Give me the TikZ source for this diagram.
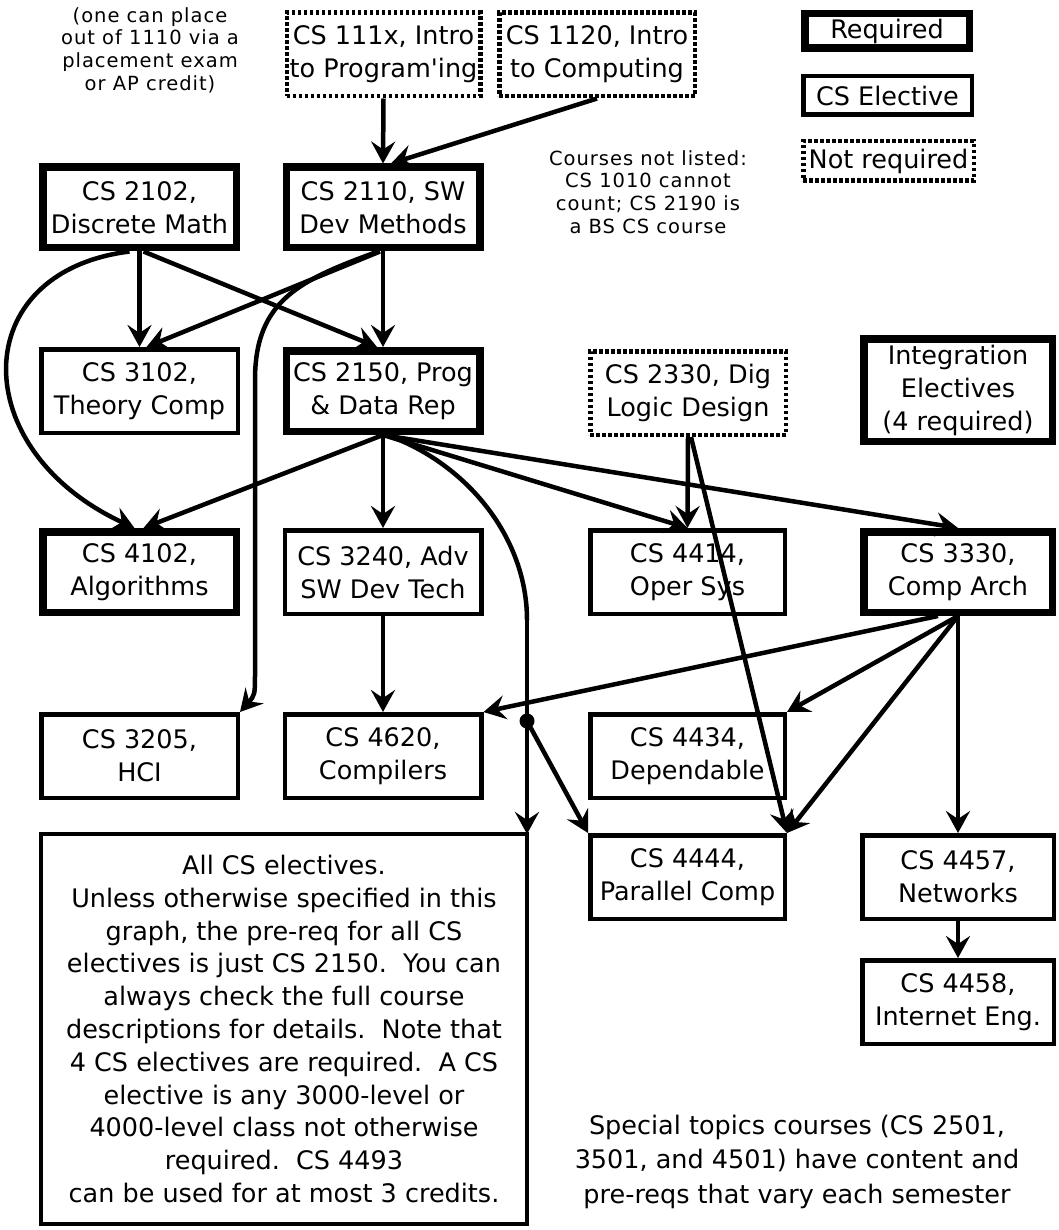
\documentclass[tikz,border=0pt]{standalone}
\usepackage{fontspec}
\newfontfamily\dv{DejaVu Sans}
\newfontfamily\dvt{DejaVu Sans}[LetterSpace=5]
\usetikzlibrary{arrows.meta}
\begin{document}
\begin{tikzpicture}[x=1pt,y=-1pt,
  box/.style={inner sep=1pt, align=center, font={\dv\fontsize{25.5}{33}\selectfont}, minimum height=83.5pt},
  req/.style={box, draw, line width=7.5pt, minimum width=193.5pt, minimum height=80.5pt},
  elec/.style={box, draw, line width=4.5pt, minimum width=196.5pt},
  opt/.style={box, draw, line width=4.5pt, dash pattern=on 3.5pt off 2.5pt, minimum width=195.5pt},
  note/.style={align=center, inner sep=0pt, font={\dvt\fontsize{19.5}{22.7}\selectfont}},
  arr/.style={line width=4.5pt, -{Stealth[length=22pt,width=24pt,inset=8pt]}},
  conn/.style={line width=4.5pt}
]
\fill[white] (0,0) rectangle (1058,1230);
\useasboundingbox (0,0) rectangle (1058,1230);

% notes
\node[note] (nplace) at (150,50) {(one can place\\out of 1110 via a\\placement exam\\or AP credit)};
\node[note] (ncourses) at (648,192) {Courses not listed:\\CS 1010 cannot\\count; CS 2190 is\\a BS CS course};
\node[align=center, inner sep=0pt, font={\dv\fontsize{25.5}{34.5}\selectfont}] (nspecial) at (797,1161.5)
  {Special topics courses (CS 2501,\\3501, and 4501) have content and\\pre-reqs that vary each semester};

% legend
\node[req, minimum width=164.5pt, minimum height=34.5pt] (lreq) at (887,31) {Required};
\node[elec, minimum width=168.5pt, minimum height=38.5pt] (lelec) at (887.5,95.5) {CS Elective};
\node[opt, minimum width=170.5pt, minimum height=39.5pt] (lnot) at (888.5,161) {Not required};

% row 1
\node[opt, minimum width=193.5pt] (b111x) at (383.5,54.5) {CS 111x, Intro\\to Program'ing};
\node[opt] (b1120) at (597,54.5) {CS 1120, Intro\\to Computing};

% row 2
\node[req] (b2102) at (139.5,207.5) {CS 2102,\\Discrete Math};
\node[req] (b2110) at (383,207.5) {CS 2110, SW\\Dev Methods};

% row 3
\node[elec] (b3102) at (139.5,391) {CS 3102,\\Theory Comp};
\node[req] (b2150) at (383,391) {CS 2150, Prog\\\& Data Rep};
\node[opt] (b2330) at (688,393) {CS 2330, Dig\\Logic Design};
\node[req, minimum width=188.5pt, minimum height=102.5pt] (bint) at (958,390) {Integration\\Electives\\(4 required)};

% row 4
\node[req] (b4102) at (139.5,572) {CS 4102,\\Algorithms};
\node[elec] (b3240) at (383,572) {CS 3240, Adv\\SW Dev Tech};
\node[elec, minimum width=194.5pt] (b4414) at (687.5,572) {CS 4414,\\Oper Sys};
\node[req, minimum width=188.5pt] (b3330) at (958,572) {CS 3330,\\Comp Arch};

% row 5
\node[elec] (b3205) at (139.5,756) {CS 3205,\\HCI};
\node[elec] (b4620) at (383,756) {CS 4620,\\Compilers};
\node[elec, minimum width=194.5pt] (b4434) at (687.5,756) {CS 4434,\\Dependable};

% row 6
\node[elec, minimum width=194.5pt] (b4444) at (687.5,877) {CS 4444,\\Parallel Comp};
\node[elec, minimum width=191.5pt] (b4457) at (958,877) {CS 4457,\\Networks};
\node[elec, minimum width=191.5pt] (b4458) at (958,1002) {CS 4458,\\Internet Eng.};

% big box
\node[elec, outer sep=0pt, minimum width=486pt, minimum height=390pt, font={\dv\fontsize{25.5}{32.8}\selectfont}] (big) at (284,1029)
  {All CS electives.\\Unless otherwise specified in this\\graph, the pre-req for all CS\\electives is just CS 2150.\ \ You can\\always check the full course\\descriptions for details.\ \ Note that\\4 CS electives are required.\ \ A CS\\elective is any 3000-level or\\4000-level class not otherwise\\required.\ \ CS 4493\\can be used for at most 3 credits.};

\coordinate (j1) at (527,620);
\coordinate (dot) at (527,721);

% edges
\draw[arr] (b111x.south) -- (b2110.north);
\draw[arr] (b1120.south) -- ([xshift=8pt]b2110.north);
\draw[arr] (b2102.south) -- (b3102.north);
\draw[arr] ([xshift=4pt]b2102.south) -- ([xshift=-6pt]b2150.north);
\draw[arr] (b2110.south) -- (b2150.north);
\draw[arr] ([xshift=-3pt]b2110.south) -- ([xshift=7pt]b3102.north);
\draw[arr] ([xshift=-10pt]b2102.south) .. controls (-34,272) and (-34,450) .. ([xshift=-5pt]b4102.north);
\draw[arr] ([xshift=-5pt]b2110.south) .. controls (300,280) and (255,300) .. (255,380) -- (255,672) .. controls (255,695) .. (b3205.north east);
\draw[arr] (b2150.south) -- ([xshift=4pt]b4102.north);
\draw[arr] (b2150.south) -- (b3240.north);
\draw[arr] (b2150.south) -- (b4414.north);
\draw[arr] (b2150.south) -- (b3330.north);
\draw[conn] ([xshift=4pt]b2150.south) .. controls (470,465) and (527,540) .. (j1);
\draw[arr] (j1) -- (big.north east);
\draw[arr] (dot) -- (b4444.north west);
\fill (dot) circle (7.5pt);
\draw[arr] (b2330.south) -- (b4414.north);
\draw[arr] ([xshift=3pt]b2330.south) -- (b4444.north east);
\draw[arr] (b3240.south) -- (b4620.north);
\draw[arr] ([xshift=-20pt]b3330.south) -- (b4620.north east);
\draw[arr] (b3330.south) -- (b4434.north east);
\draw[arr] (b3330.south) -- (b4444.north east);
\draw[arr] (b3330.south) -- (b4457.north);
\draw[arr] (b4457.south) -- (b4458.north);
\end{tikzpicture}
\end{document}
